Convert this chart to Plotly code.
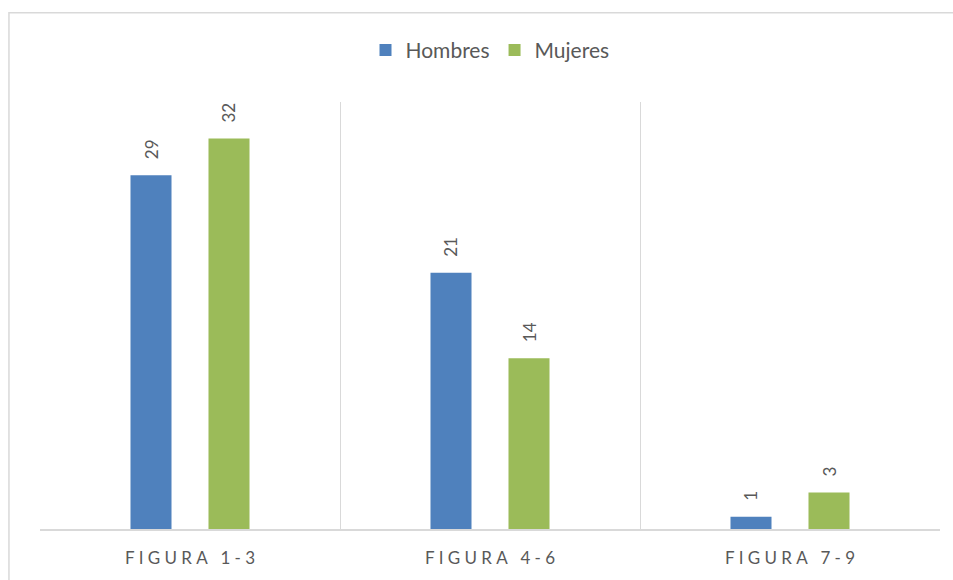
import plotly.graph_objects as go

categories = ["FIGURA 1-3", "FIGURA 4-6", "FIGURA 7-9"]
hombres = [29, 21, 1]
mujeres = [32, 14, 3]
series_names = ["Hombres", "Mujeres"]
colors = ["#4F81BD", "#9BBB59"]

def spaced(s):
    return "\u2005".join(list(s))

tick_text = [spaced(c) for c in categories]

fig = go.Figure()
for name, vals, col in zip(series_names, [hombres, mujeres], colors):
    fig.add_trace(go.Bar(
        x=categories, y=vals, name=name,
        marker=dict(color=col, line=dict(color=col, width=0)),
        hoverinfo="x+y+name",
    ))

# data labels
for vals, shift in zip([hombres, mujeres], [-39, 39]):
    for c, v in zip(categories, vals):
        fig.add_annotation(
            x=c, y=v, xref="x", yref="y", text=str(v), showarrow=False,
            textangle=-90, xanchor="center", yanchor="bottom",
            xshift=shift, yshift=14,
            font=dict(family="Lato", size=17, color="#595959"),
        )

# outer chart border
fig.add_shape(type="rect", xref="paper", yref="paper",
              x0=-0.0345, x1=1.05, y0=-0.2, y1=1.209,
              line=dict(color="#D9D9D9", width=1.5), layer="below")

fig.update_layout(
    width=953, height=580,
    margin=dict(l=40, r=13, t=102, b=48),
    paper_bgcolor="white", plot_bgcolor="white",
    barmode="group", bargap=0.48, bargroupgap=0.474,
    showlegend=True,
    legend=dict(orientation="h", x=0.5, xanchor="center", y=1.121, yanchor="middle",
                font=dict(family="Lato", size=21, color="#595959"),
                itemwidth=30, tracegroupgap=0),
    font=dict(family="Lato", color="#595959"),
    xaxis=dict(
        type="category", tickson="boundaries", showgrid=True,
        gridcolor="#D9D9D9", gridwidth=1.2,
        showline=True, linecolor="#D9D9D9", linewidth=1.5,
        ticks="", tickvals=categories, ticktext=tick_text,
        tickfont=dict(family="Lato", size=17, color="#595959"),
        ticklabelstandoff=13, fixedrange=True,
    ),
    yaxis=dict(range=[0, 35], showgrid=False, showticklabels=False,
               zeroline=False, showline=False, ticks="", fixedrange=True),
)

fig.write_html("out.html")
